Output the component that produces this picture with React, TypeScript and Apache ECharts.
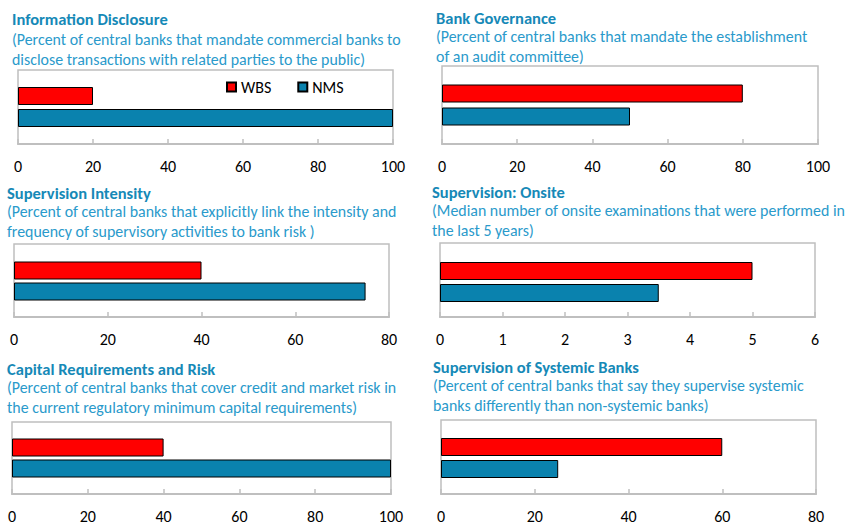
import React, { useEffect, useRef } from 'react';
import * as echarts from 'echarts';

const seriesNames = ['WBS', 'NMS'];
const barCategories = ['NMS', 'WBS'];
const panelTitles = [
  'Information Disclosure',
  'Bank Governance',
  'Supervision Intensity',
  'Supervision: Onsite',
  'Capital Requirements and Risk',
  'Supervision of Systemic Banks',
];
const panelSubtitles = [
  '(Percent of central banks that mandate commercial banks to\ndisclose transactions with related parties to the public)',
  '(Percent of central banks that mandate the establishment\nof an audit committee)',
  '(Percent of central banks that explicitly link the intensity and\nfrequency of supervisory activities to bank risk )',
  '(Median number of onsite examinations that were performed in\nthe last 5 years)',
  '(Percent of central banks that cover credit and market risk in\nthe current regulatory minimum capital requirements)',
  '(Percent of central banks that say they supervise systemic\nbanks differently than non-systemic banks)',
];
const wbsValues = [20, 80, 40, 5, 40, 60];
const nmsValues = [100, 50, 75, 3.5, 100, 25];
const axisMax = [100, 100, 80, 6, 100, 80];
const axisInterval = [20, 20, 20, 1, 20, 20];

const layouts = [
  { boxL: 18, boxR: 393, boxT: 70, boxB: 144, barT: 87, barB: 127, tx: 12, ty: 19, sy: 40 },
  { boxL: 442, boxR: 818, boxT: 66, boxB: 144, barT: 84, barB: 126, tx: 436, ty: 18, sy: 37 },
  { boxL: 14, boxR: 389, boxT: 244, boxB: 317, barT: 262, barB: 300, tx: 7, ty: 193, sy: 212 },
  { boxL: 440, boxR: 815, boxT: 243, boxB: 317, barT: 262, barB: 302, tx: 432, ty: 192, sy: 211 },
  { boxL: 12, boxR: 391, boxT: 422, boxB: 494, barT: 439, barB: 477, tx: 7, ty: 369, sy: 388 },
  { boxL: 441, boxR: 816, boxT: 420, boxB: 494, barT: 438, barB: 478, tx: 433, ty: 367, sy: 386 },
];

const FONT = 'Carlito, Lato, sans-serif';
const RED = '#FF0000';
const BLUE = '#0A82AE';
const TITLE_COLOR = '#1689B7';
const SUB_COLOR = '#2A9ACB';
const BOX_COLOR = '#BFBFBF';

export default function App() {
  const ref = useRef<HTMLDivElement>(null);
  useEffect(() => {
    if (!ref.current) return;
    const chart = echarts.init(ref.current, null, { renderer: 'svg' });
    const grids: any[] = [];
    const xAxes: any[] = [];
    const yAxes: any[] = [];
    const series: any[] = [];
    const graphics: any[] = [];
    layouts.forEach((L, i) => {
      grids.push({
        left: L.boxL,
        width: L.boxR - L.boxL,
        top: L.barT - 2,
        height: L.barB - L.barT + 4,
        containLabel: false,
      });
      xAxes.push({
        type: 'value',
        gridIndex: i,
        min: 0,
        max: axisMax[i],
        interval: axisInterval[i],
        offset: L.boxB - (L.barB + 2),
        axisLine: { show: true, lineStyle: { color: BOX_COLOR, width: 2 } },
        axisTick: { show: true, inside: true, length: 5, lineStyle: { color: BOX_COLOR, width: 1.5 } },
        splitLine: { show: false },
        axisLabel: { margin: 14, fontSize: 16, color: '#000', fontFamily: FONT },
      });
      yAxes.push({
        type: 'category',
        gridIndex: i,
        data: barCategories,
        axisLine: { show: false },
        axisTick: { show: false },
        axisLabel: { show: false },
      });
      series.push({
        name: seriesNames[0],
        type: 'bar',
        xAxisIndex: i,
        yAxisIndex: i,
        data: ['-', wbsValues[i]],
        barWidth: 18,
        barGap: '-100%',
        itemStyle: { color: RED, borderColor: '#000', borderWidth: 1 },
      });
      series.push({
        name: seriesNames[1],
        type: 'bar',
        xAxisIndex: i,
        yAxisIndex: i,
        data: [nmsValues[i], '-'],
        barWidth: 18,
        barGap: '-100%',
        itemStyle: { color: BLUE, borderColor: '#000', borderWidth: 1 },
      });
      graphics.push({
        type: 'rect',
        silent: true,
        z: -1,
        shape: { x: L.boxL, y: L.boxT, width: L.boxR - L.boxL, height: L.boxB - L.boxT },
        style: { fill: 'none', stroke: BOX_COLOR, lineWidth: 1.5 },
      });
      graphics.push({
        type: 'text',
        x: L.tx,
        y: L.ty,
        style: {
          text: panelTitles[i],
          font: `bold 16.5px ${FONT}`,
          fill: TITLE_COLOR,
          textVerticalAlign: 'middle',
        },
      });
      graphics.push({
        type: 'text',
        x: L.tx,
        y: L.sy - 10,
        style: {
          text: panelSubtitles[i],
          font: `15.9px ${FONT}`,
          fill: SUB_COLOR,
          lineHeight: 19.5,
          textVerticalAlign: 'top',
        },
      });
    });
    chart.setOption({
      animation: false,
      grid: grids,
      xAxis: xAxes,
      yAxis: yAxes,
      series,
      legend: {
        data: seriesNames,
        left: 226,
        top: 79,
        padding: 0,
        itemWidth: 9,
        itemHeight: 9,
        itemGap: 26,
        icon: 'rect',
        textStyle: { fontSize: 16, color: '#000', fontFamily: FONT },
      },
      graphic: graphics,
    });
    return () => chart.dispose();
  }, []);
  return (
    <div
      ref={ref}
      style={{ position: 'absolute', left: 0, top: 0, width: 845, height: 525, background: '#fff' }}
    />
  );
}
